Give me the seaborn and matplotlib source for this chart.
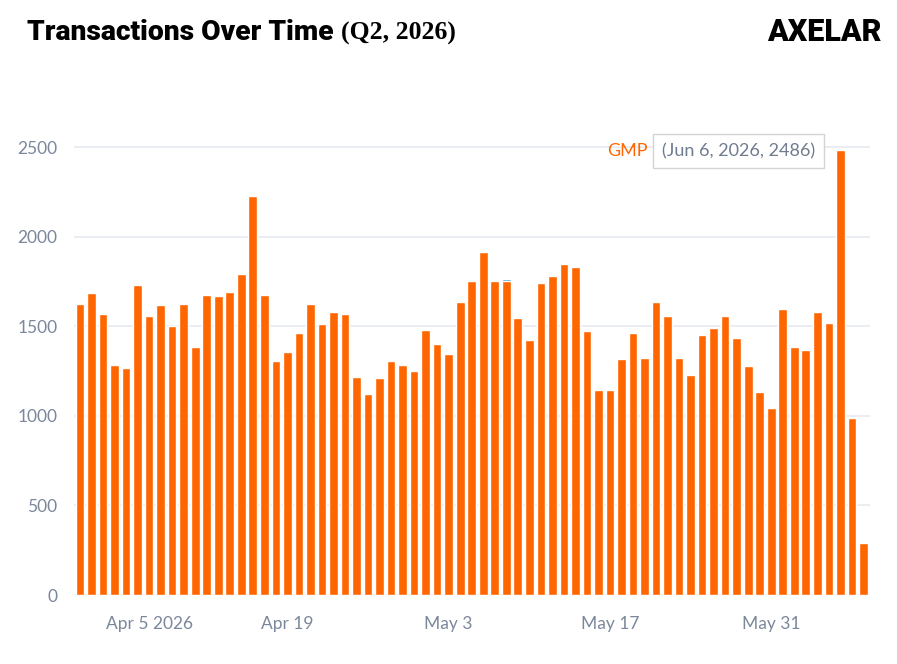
import pandas as pd
import matplotlib.pyplot as plt
import matplotlib.transforms as mtransforms
import seaborn as sns

# daily transactions, Apr 1 - Jun 8 2026
dates = pd.date_range('2026-04-01', '2026-06-08', freq='D')
gmp = [1627, 1686, 1569, 1286, 1270, 1734, 1560, 1617, 1502, 1627,
       1385, 1677, 1668, 1695, 1794, 2229, 1677, 1309, 1357, 1463,
       1627, 1511, 1580, 1571, 1220, 1123, 1210, 1309, 1286, 1249,
       1482, 1404, 1346, 1638, 1755, 1918, 1753, 1753, 1549, 1424,
       1744, 1783, 1850, 1831, 1472, 1143, 1143, 1316, 1463, 1325,
       1638, 1560, 1325, 1229, 1454, 1493, 1560, 1433, 1277, 1132,
       1047, 1599, 1385, 1366, 1578, 1521, 2486, 987, 288]
# tiny second series (blue cap)
other = [0, 0, 0, 0, 0, 0, 0, 0, 0, 0,
         0, 0, 0, 0, 0, 0, 0, 0, 0, 0,
         0, 0, 0, 0, 0, 0, 0, 0, 0, 0,
         0, 0, 0, 0, 0, 0, 0, 12, 0, 0,
         0, 0, 0, 0, 0, 0, 0, 0, 0, 0,
         0, 0, 0, 0, 0, 0, 0, 0, 0, 0,
         0, 0, 0, 0, 0, 0, 0, 0, 0]

tick_dates = ['2026-04-05', '2026-04-19', '2026-05-03', '2026-05-17', '2026-05-31']
tick_labels = ['Apr 5 2026', 'Apr 19', 'May 3', 'May 17', 'May 31']
y_ticks = [0, 500, 1000, 1500, 2000, 2500]

df = pd.DataFrame({'date': dates.strftime('%Y-%m-%d'), 'gmp': gmp})
df['total'] = df['gmp'] + pd.Series(other)

sns.set_style('white')
plt.rcParams['font.family'] = ['Lato', 'DejaVu Sans']

fig = plt.figure(figsize=(8.97, 6.64), dpi=100)
ax = fig.add_axes([0.0825, 0.1039, 0.8875, 0.7011])

orange = '#ff6600'
label_col = '#7b879b'

sns.barplot(data=df, x='date', y='total', color='#3a9bd8', saturation=1,
            width=0.75, ax=ax)
sns.barplot(data=df, x='date', y='gmp', color=orange, saturation=1,
            width=0.75, ax=ax)

ax.set_xlim(-0.52, 68.58)
ax.set_ylim(0, 2600)
ax.set_yticks(y_ticks)
ax.set_yticklabels([str(v) for v in y_ticks])
pos = [list(df['date']).index(d) for d in tick_dates]
ax.set_xticks(pos)
ax.set_xticklabels(tick_labels)
ax.set_xlabel('')
ax.set_ylabel('')
ax.yaxis.grid(True, color='#e6ebf2', linewidth=1.2)
ax.set_axisbelow(True)
for s in ax.spines.values():
    s.set_visible(False)
ax.tick_params(axis='y', length=0, pad=12, labelsize=12.5, labelcolor=label_col)
ax.tick_params(axis='x', length=0, pad=15, labelsize=12.5, labelcolor=label_col)

# first label sits a bit right of its tick like the original
first = ax.get_xticklabels()[0]
first.set_transform(first.get_transform() +
                    mtransforms.ScaledTranslation(0.23, 0, fig.dpi_scale_trans))

# hover tooltip on the peak
ax.text(49.3, 2480, 'GMP', color=orange, fontsize=13, ha='right', va='center')
ax.text(50.5, 2480, '(Jun 6, 2026, 2486)', color='#6f7c90', fontsize=13,
        ha='left', va='center',
        bbox=dict(boxstyle='square,pad=0.5', facecolor='white',
                  edgecolor='#d4d4d4', linewidth=1))

# header
t1 = fig.text(27 / 897, 1 - 32 / 664, 'Transactions Over Time', fontsize=20.3,
              fontweight='black', family='Roboto', va='center', color='black')
fig.canvas.draw()
bb = t1.get_window_extent()
fig.text((bb.x1 + 7) / 897, 1 - 33 / 664, '(Q2, 2026)', fontsize=18.5,
         fontweight='bold', family='Liberation Serif', va='center',
         color='black')
fig.text(882 / 897, 1 - 32 / 664, 'AXELAR', fontsize=22, fontweight='black',
         family='Roboto', ha='right', va='center', color='black')

fig.savefig('out.png', dpi=100)
